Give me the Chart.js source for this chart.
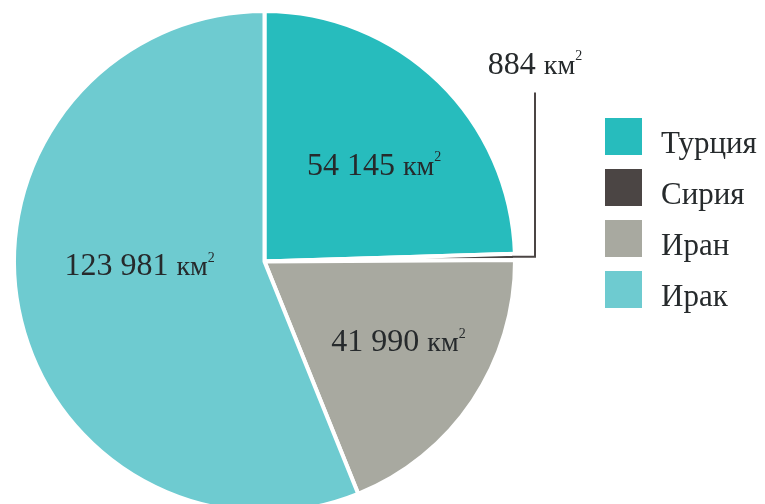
<!DOCTYPE html>
<html>
<head>
<meta charset="utf-8">
<script src="https://cdn.jsdelivr.net/npm/chart.js@4"></script>
<style>
  html, body { margin: 0; padding: 0; background: #fff; overflow: hidden; }
  #wrap { width: 765px; height: 520px; }
</style>
</head>
<body>
<div id="wrap"><canvas id="chart" width="765" height="520"></canvas></div>
<script>
const chart = document.querySelector('#chart');
const labels = ['Турция', 'Сирия', 'Иран', 'Ирак'];
const data = [54145, 884, 41990, 123981];
const colors = ['#27bcbd', '#4b4544', '#a8a9a0', '#6ecbd0'];

const FONT = '"Liberation Serif", "Times New Roman", serif';
const TEXT = '#262a2c';

// "54 145" style grouping
function fmt(v) {
    return String(v).replace(/\B(?=(\d{3})+(?!\d))/g, ' ');
}

// value + "км" with a raised small 2
function drawArea(ctx, value, cx, y, size) {
    const num = fmt(value) + ' ';
    const unit = 'км';
    const uSize = Math.round(size * 0.88);
    const sSize = Math.round(size * 0.45);
    ctx.font = size + 'px ' + FONT;
    const w1 = ctx.measureText(num).width;
    ctx.font = uSize + 'px ' + FONT;
    const w2 = ctx.measureText(unit).width;
    ctx.font = sSize + 'px ' + FONT;
    const w3 = ctx.measureText('2').width;
    let x = cx - (w1 + w2 + w3) / 2;
    ctx.fillStyle = TEXT;
    ctx.textBaseline = 'alphabetic';
    ctx.textAlign = 'left';
    ctx.font = size + 'px ' + FONT;
    ctx.fillText(num, x, y);
    x += w1;
    ctx.font = uSize + 'px ' + FONT;
    ctx.fillText(unit, x, y);
    x += w2;
    ctx.font = sSize + 'px ' + FONT;
    ctx.fillText('2', x, y - size * 0.42);
}

// radial position of each value label (fraction of radius) and nudge
const labelPos = [
    { r: 0.60, dx: 5, dy: 21 },
    null,
    { r: 0.62, dx: 5, dy: 3 },
    { r: 0.52, dx: 3, dy: -11 }
];

const valueLabels = {
    id: 'valueLabels',
    afterDatasetsDraw(c) {
        const ctx = c.ctx;
        const arcs = c.getDatasetMeta(0).data;
        ctx.save();
        arcs.forEach((arc, i) => {
            const { x, y, startAngle, endAngle, outerRadius } = arc.getProps(['x', 'y', 'startAngle', 'endAngle', 'outerRadius'], true);
            const mid = (startAngle + endAngle) / 2;
            if (labelPos[i]) {
                const p = labelPos[i];
                const lx = x + Math.cos(mid) * outerRadius * p.r + p.dx;
                const ly = y + Math.sin(mid) * outerRadius * p.r + p.dy;
                drawArea(ctx, data[i], lx, ly, 32);
            } else {
                // leader line for the thin slice
                const ex = x + Math.cos(mid) * outerRadius;
                const ey = y + Math.sin(mid) * outerRadius;
                const vx = x + outerRadius + 20;
                const topY = y - 169;
                ctx.strokeStyle = colors[i];
                ctx.lineWidth = 2;
                ctx.beginPath();
                ctx.moveTo(ex - 3, ey);
                ctx.lineTo(vx, ey);
                ctx.lineTo(vx, topY);
                ctx.stroke();
                drawArea(ctx, data[i], vx, topY - 19, 32);
            }
        });
        ctx.restore();
    }
};

const sideLegend = {
    id: 'sideLegend',
    afterDraw(c) {
        const ctx = c.ctx;
        ctx.save();
        labels.forEach((name, i) => {
            const top = 118 + i * 51;
            ctx.fillStyle = colors[i];
            ctx.fillRect(605, top, 37, 37);
            ctx.fillStyle = TEXT;
            ctx.font = '31px ' + FONT;
            ctx.textAlign = 'left';
            ctx.textBaseline = 'alphabetic';
            ctx.fillText(name, 661, top + 35);
        });
        ctx.restore();
    }
};

new Chart(chart, {
    type: 'pie',
    data: {
        labels: labels,
        datasets: [
            {
                data: data,
                backgroundColor: colors,
                borderColor: '#ffffff',
                borderWidth: 4
            }
        ]
    },
    options: {
        responsive: false,
        animation: false,
        layout: { padding: { left: 12, top: 9, right: 248, bottom: 6 } },
        plugins: {
            legend: { display: false },
            tooltip: { enabled: false }
        }
    },
    plugins: [valueLabels, sideLegend]
});
</script>
</body>
</html>
